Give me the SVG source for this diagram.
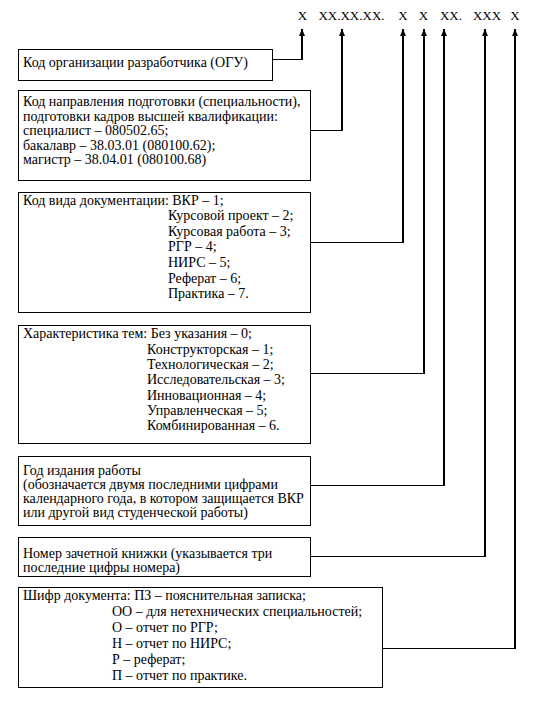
<svg xmlns="http://www.w3.org/2000/svg" width="543" height="701" viewBox="0 0 543 701">
<style>
.bg{fill:#fff}
.box{fill:#fff;stroke:#000;stroke-width:1}
text{font-family:'Liberation Serif','Times New Roman',Times,serif;font-size:14px;fill:#000}
.lbl{text-anchor:middle;font-size:13px}
.h{stroke:#000;stroke-width:1;fill:none}
.v{stroke:#000;stroke-width:2;fill:none;marker-end:url(#arr)}
</style>
<defs>
<marker id="arr" viewBox="0 0 7 6" refX="7" refY="3" markerWidth="7" markerHeight="6" markerUnits="userSpaceOnUse" orient="auto">
<path d="M0,0 L7,3 L0,6 z" fill="#000"/>
</marker>
</defs>
<rect class="bg" x="0" y="0" width="543" height="701"/>
<g id="code">
<text class="lbl" x="302.5" y="19.5">X</text>
<text class="lbl" x="351.5" y="19.5">XX.XX.XX.</text>
<text class="lbl" x="403" y="19.5">X</text>
<text class="lbl" x="423.5" y="19.5">X</text>
<text class="lbl" x="451" y="19.5">XX.</text>
<text class="lbl" x="487" y="19.5">XXX</text>
<text class="lbl" x="515" y="19.5">X</text>
</g>
<g id="connectors">
<line class="h" x1="273" y1="59.5" x2="302" y2="59.5"/>
<line class="v" x1="302" y1="60" x2="302" y2="29"/>
<line class="h" x1="311" y1="130.5" x2="342" y2="130.5"/>
<line class="v" x1="342" y1="131" x2="342" y2="29"/>
<line class="h" x1="311" y1="242.5" x2="403" y2="242.5"/>
<line class="v" x1="403" y1="243" x2="403" y2="29"/>
<line class="h" x1="311" y1="373.5" x2="424" y2="373.5"/>
<line class="v" x1="424" y1="374" x2="424" y2="29"/>
<line class="h" x1="311" y1="485.5" x2="444" y2="485.5"/>
<line class="v" x1="444" y1="486" x2="444" y2="29"/>
<line class="h" x1="311" y1="556.5" x2="485" y2="556.5"/>
<line class="v" x1="485" y1="557" x2="485" y2="29"/>
<line class="h" x1="383" y1="648.5" x2="515" y2="648.5"/>
<line class="v" x1="515" y1="649" x2="515" y2="29"/>
</g>
<g id="box1">
<rect class="box" x="18.5" y="49.5" width="254" height="31"/>
<text x="23" y="67">Код организации разработчика (ОГУ)</text>
</g>
<g id="box2">
<rect class="box" x="18.5" y="90.5" width="292" height="90"/>
<text x="23" y="106">Код направления подготовки (специальности),</text>
<text x="23" y="120.5">подготовки кадров высшей квалификации:</text>
<text x="23" y="135">специалист – 080502.65;</text>
<text x="23" y="149.5">бакалавр – 38.03.01 (080100.62);</text>
<text x="23" y="164">магистр – 38.04.01 (080100.68)</text>
</g>
<g id="box3">
<rect class="box" x="18.5" y="192.5" width="292" height="120"/>
<text x="23" y="204.5">Код вида документации: ВКР – 1;</text>
<text x="168" y="220">Курсовой проект – 2;</text>
<text x="168" y="235.5">Курсовая работа – 3;</text>
<text x="168" y="251">РГР – 4;</text>
<text x="168" y="267">НИРС – 5;</text>
<text x="168" y="282.5">Реферат – 6;</text>
<text x="168" y="298">Практика – 7.</text>
</g>
<g id="box4">
<rect class="box" x="18.5" y="325.5" width="292" height="118"/>
<text x="23" y="338">Характеристика тем: Без указания – 0;</text>
<text x="147" y="353.5">Конструкторская – 1;</text>
<text x="147" y="368.5">Технологическая – 2;</text>
<text x="147" y="384">Исследовательская – 3;</text>
<text x="147" y="399.5">Инновационная – 4;</text>
<text x="147" y="415">Управленческая – 5;</text>
<text x="147" y="430">Комбинированная – 6.</text>
</g>
<g id="box5">
<rect class="box" x="18.5" y="456.5" width="292" height="69"/>
<text x="23" y="475">Год издания работы</text>
<text x="23" y="489">(обозначается двумя последними цифрами</text>
<text x="23" y="503">календарного года, в котором защищается ВКР</text>
<text x="23" y="517">или другой вид студенческой работы)</text>
</g>
<g id="box6">
<rect class="box" x="18.5" y="537.5" width="292" height="39"/>
<text x="23" y="557.5">Номер зачетной книжки (указывается три</text>
<text x="23" y="572">последние цифры номера)</text>
</g>
<g id="box7">
<rect class="box" x="18.5" y="587.5" width="364" height="100"/>
<text x="23" y="599.5">Шифр документа: ПЗ – пояснительная записка;</text>
<text x="112" y="615.5">ОО – для нетехнических специальностей;</text>
<text x="112" y="631.5">О – отчет по РГР;</text>
<text x="112" y="647.5">Н – отчет по НИРС;</text>
<text x="112" y="664">Р – реферат;</text>
<text x="112" y="680">П – отчет по практике.</text>
</g>
</svg>
